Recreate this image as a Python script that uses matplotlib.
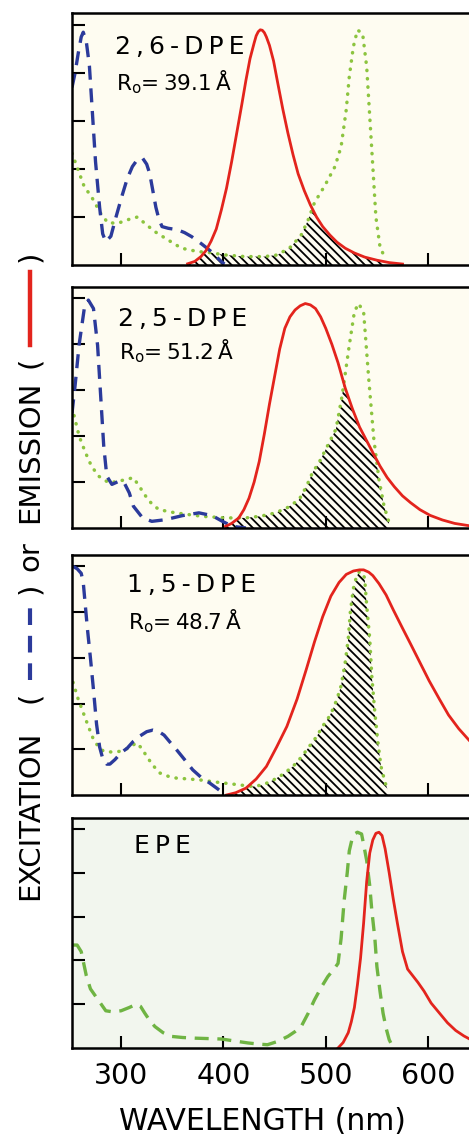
import numpy as np
import matplotlib
matplotlib.use("Agg")
import matplotlib.pyplot as plt
from matplotlib.lines import Line2D

# ================== DATA ==================
# 2,6-DPE
ex1_wl = [252, 255, 258, 261, 263, 266, 269, 272, 275, 279, 282, 285, 290, 295, 301, 306, 311, 316,
          321, 325, 328, 331, 334, 337, 340, 346, 355, 362, 369, 378, 384, 388, 393, 398, 401]
ex1 = [0.74, 0.80, 0.88, 0.95, 0.97, 0.93, 0.83, 0.63, 0.43, 0.24, 0.13, 0.097, 0.12, 0.20, 0.29, 0.36,
       0.41, 0.44, 0.445, 0.42, 0.38, 0.31, 0.24, 0.19, 0.16, 0.153, 0.147, 0.135, 0.118, 0.09, 0.07,
       0.056, 0.035, 0.014, 0.004]
ab1_wl = [252, 258, 264, 271, 280, 287, 297, 306, 316, 323, 333, 346, 359, 375, 388, 401, 421, 440,
          453, 466, 476, 483, 489, 499, 509, 515, 520, 523, 527, 531, 536, 540, 543, 546, 549, 553, 558]
ab1 = [0.465, 0.396, 0.326, 0.285, 0.215, 0.176, 0.174, 0.188, 0.20, 0.174, 0.139, 0.104, 0.07, 0.056,
       0.051, 0.042, 0.035, 0.035, 0.042, 0.076, 0.125, 0.19, 0.26, 0.33, 0.41, 0.493, 0.646, 0.785,
       0.91, 0.979, 0.965, 0.826, 0.618, 0.41, 0.2, 0.076, 0.028]
em1_wl = [365, 372, 378, 383, 388, 393, 398, 403, 408, 413, 418, 422, 426, 430, 432, 434, 436, 438,
          440, 442, 445, 449, 453, 458, 463, 468, 473, 479, 485, 491, 497, 504, 511, 519, 528, 538,
          550, 562, 575]
em1 = [0.005, 0.015, 0.035, 0.06, 0.10, 0.15, 0.23, 0.32, 0.43, 0.55, 0.67, 0.77, 0.86, 0.925, 0.955,
       0.972, 0.98, 0.978, 0.968, 0.95, 0.915, 0.85, 0.76, 0.65, 0.55, 0.46, 0.38, 0.31, 0.25, 0.20,
       0.16, 0.125, 0.095, 0.07, 0.05, 0.033, 0.02, 0.01, 0.004]

# 2,5-DPE
ex2_wl = [252, 255, 259, 264, 268, 273, 277, 280, 283, 286, 291, 298, 303, 308, 312, 321, 330, 343,
          360, 376, 389, 399, 409, 422]
ex2 = [0.50, 0.62, 0.80, 0.956, 0.993, 0.956, 0.796, 0.577, 0.358, 0.226, 0.19, 0.204, 0.197, 0.153,
       0.095, 0.044, 0.029, 0.036, 0.054, 0.066, 0.054, 0.029, 0.007, 0.0]
ab2_wl = [254, 259, 265, 271, 278, 288, 298, 305, 312, 318, 324, 330, 337, 353, 379, 402, 422, 437,
          451, 463, 474, 481, 487, 494, 500, 510, 516, 523, 528, 532, 537, 542, 547, 552, 557, 562]
ab2 = [0.49, 0.40, 0.33, 0.27, 0.226, 0.197, 0.204, 0.212, 0.219, 0.18, 0.139, 0.105, 0.08, 0.066,
       0.051, 0.044, 0.044, 0.052, 0.066, 0.09, 0.124, 0.18, 0.241, 0.29, 0.343, 0.431, 0.577, 0.796,
       0.942, 0.978, 0.942, 0.65, 0.387, 0.212, 0.095, 0.022]
em2_wl = [402, 408, 415, 420, 425, 430, 435, 440, 445, 450, 455, 460, 465, 470, 475, 480, 485, 490,
          495, 500, 506, 512, 519, 526, 533, 540, 547, 553, 560, 567, 575, 583, 592, 602, 614, 626, 640]
em2 = [0.007, 0.02, 0.044, 0.08, 0.13, 0.20, 0.29, 0.41, 0.54, 0.66, 0.78, 0.87, 0.92, 0.95, 0.968,
       0.978, 0.972, 0.956, 0.92, 0.87, 0.80, 0.72, 0.61, 0.52, 0.44, 0.38, 0.32, 0.27, 0.22, 0.18,
       0.14, 0.11, 0.08, 0.055, 0.035, 0.02, 0.01]

# 1,5-DPE
ex3_wl = [253, 257, 261, 263, 265, 267, 270, 273, 276, 279, 282, 286, 289, 294, 300, 306, 312, 318,
          325, 331, 337, 342, 348, 354, 362, 370, 378, 387, 394, 400]
ex3 = [1.0, 0.99, 0.97, 0.93, 0.83, 0.73, 0.60, 0.46, 0.31, 0.21, 0.16, 0.135, 0.135, 0.155, 0.185,
       0.205, 0.235, 0.257, 0.277, 0.284, 0.277, 0.262, 0.23, 0.199, 0.155, 0.11, 0.078, 0.051, 0.028,
       0.007]
ab3_wl = [253, 258, 263, 268, 273, 278, 283, 291, 299, 307, 315, 320, 325, 331, 338, 346, 354, 366,
          377, 390, 403, 416, 429, 439, 449, 458, 468, 476, 484, 491, 497, 503, 507, 511, 515, 519, 522,
          524, 527, 530, 533, 536, 538, 540, 543, 545, 548, 551, 554, 558, 561]
ab3 = [0.493, 0.42, 0.36, 0.30, 0.243, 0.21, 0.191, 0.188, 0.191, 0.205, 0.228, 0.205, 0.169, 0.13,
       0.096, 0.082, 0.074, 0.07, 0.066, 0.058, 0.051, 0.044, 0.037, 0.045, 0.066, 0.09, 0.125, 0.165,
       0.213, 0.255, 0.301, 0.34, 0.375, 0.42, 0.478, 0.58, 0.684, 0.80, 0.904, 0.955, 0.978, 0.97,
       0.949, 0.83, 0.684, 0.52, 0.36, 0.23, 0.125, 0.055, 0.015]
em3_wl = [403, 412, 422, 432, 442, 452, 462, 472, 481, 489, 497, 505, 513, 520, 527, 533, 537, 542,
          546, 552, 559, 566, 575, 583, 592, 601, 611, 620, 630, 640]
em3 = [0.0, 0.01, 0.03, 0.07, 0.125, 0.21, 0.30, 0.42, 0.55, 0.67, 0.78, 0.87, 0.93, 0.965, 0.98,
       0.985, 0.985, 0.975, 0.96, 0.925, 0.875, 0.81, 0.73, 0.66, 0.58, 0.50, 0.42, 0.35, 0.29, 0.24]

# EPE
ex4_wl = [253, 257, 261, 266, 270, 276, 285, 292, 300, 308, 315, 319, 323, 328, 333, 341, 349, 360,
          372, 385, 398, 411, 424, 434, 443, 453, 463, 470, 476, 483, 489, 496, 502, 508, 512, 515,
          518, 521, 523, 526, 528, 531, 535, 537, 540, 543, 545, 548, 550, 553, 556, 559, 562, 566]
ex4 = [0.47, 0.47, 0.44, 0.33, 0.27, 0.23, 0.17, 0.165, 0.17, 0.185, 0.2, 0.19, 0.16, 0.125, 0.098,
       0.07, 0.053, 0.048, 0.045, 0.043, 0.041, 0.032, 0.023, 0.018, 0.015, 0.03, 0.053, 0.075, 0.098,
       0.16, 0.22, 0.28, 0.326, 0.36, 0.386, 0.5, 0.674, 0.80, 0.9, 0.96, 0.977, 0.985, 0.977, 0.93,
       0.856, 0.74, 0.629, 0.50, 0.371, 0.26, 0.159, 0.09, 0.038, 0.0]
em4_wl = [512, 517, 522, 525, 528, 531, 534, 537, 540, 543, 546, 549, 552, 555, 558, 562, 566, 570,
          575, 580, 585, 590, 596, 603, 611, 619, 627, 635, 641]
em4 = [0.0, 0.025, 0.07, 0.12, 0.185, 0.29, 0.41, 0.57, 0.76, 0.89, 0.95, 0.98, 0.985, 0.97, 0.91,
       0.80, 0.68, 0.57, 0.44, 0.36, 0.33, 0.30, 0.26, 0.205, 0.16, 0.115, 0.08, 0.055, 0.04]

names = ["2,6-DPE", "2,5-DPE", "1,5-DPE", "EPE"]
r0_text = ["39.1", "51.2", "48.7", None]
xticks = [300, 400, 500, 600]
yticks = [0.2, 0.4, 0.6, 0.8, 1.0]

# ================== STYLE ==================
W, H = 469, 1135
RED = "#e3241d"
BLUE = "#2b3a9b"
GREEN_DOT = "#8cc43f"
GREEN_DASH = "#6fb443"
CREAM = "#fefcf1"
MINT = "#f2f6ee"
plt.rcParams['font.family'] = 'DejaVu Sans'
plt.rcParams['hatch.color'] = 'black'
plt.rcParams['hatch.linewidth'] = 1.3

fig = plt.figure(figsize=(W / 100, H / 100), dpi=100)
fig.patch.set_facecolor("white")

# panel top/bottom in pixels
boxes = [(13, 265), (287, 528), (555, 795), (818, 1048)]
panels = [
    (ex1_wl, ex1, ab1_wl, ab1, em1_wl, em1),
    (ex2_wl, ex2, ab2_wl, ab2, em2_wl, em2),
    (ex3_wl, ex3, ab3_wl, ab3, em3_wl, em3),
    (ex4_wl, ex4, None, None, em4_wl, em4),
]
lab_pos = [(294, 0.91, 0.76), (297, 0.91, 0.77), (306, 0.92, 0.76), (313, 0.92, None)]

thin = "\u2009"
for i, ((top, bot), data) in enumerate(zip(boxes, panels)):
    ax = fig.add_axes([72 / W, 1 - bot / H, (W - 72) / W, (bot - top) / H])
    ax.set_facecolor(MINT if i == 3 else CREAM)
    ax.set_xlim(252, 640)
    ax.set_ylim(0, 1.05)
    ax.spines['right'].set_visible(False)
    for s in ['left', 'top', 'bottom']:
        ax.spines[s].set_linewidth(1.8)
    ax.set_xticks(xticks)
    ax.set_yticks(yticks)
    ax.tick_params(direction='in', length=9, width=1.5, labelleft=False,
                   labelbottom=(i == 3), labelsize=20.5, pad=10)
    exw, exv, abw, abv, emw, emv = data

    if abw is not None:
        # overlap of donor emission and acceptor absorption
        grid = np.linspace(min(emw[0], abw[0]), max(emw[-1], abw[-1]), 800)
        ov = np.minimum(np.interp(grid, emw, emv, left=0, right=0),
                        np.interp(grid, abw, abv, left=0, right=0))
        ax.fill_between(grid, 0, ov, facecolor='none', edgecolor='black',
                        linewidth=0, hatch='\\\\\\\\')
        ax.plot(abw, abv, color=GREEN_DOT, lw=2.5, linestyle=(0, (0.1, 2.3)),
                dash_capstyle='round')
        ax.plot(exw, exv, color=BLUE, lw=2.4, linestyle=(0, (4.2, 2.6)))
    else:
        ax.plot(exw, exv, color=GREEN_DASH, lw=2.4, linestyle=(0, (4.2, 2.6)))
    ax.plot(emw, emv, color=RED, lw=2.0, solid_joinstyle='round')

    lx, ly1, ly2 = lab_pos[i]
    ax.text(lx, ly1, thin.join(names[i]), fontsize=18, va='center', ha='left')
    if r0_text[i] is not None:
        ax.text(lx + 1, ly2, r"R$_\mathregular{o}$=" + thin + r0_text[i] + thin + "Å",
                fontsize=15.5, va='center', ha='left')

# x label
fig.text(262 / W, 1 - 1122 / H, "WAVELENGTH (nm)", fontsize=21.5, ha='center', va='center')

# y label built from pieces, reading bottom to top
lx = 30 / W
fs = 21
def vtext(s, ypix):
    fig.text(lx, 1 - ypix / H, s, rotation=90, ha='center', va='center', fontsize=fs)

vtext("EXCITATION", 815)
vtext("(", 697)
fig.add_artist(Line2D([lx, lx], [1 - 680 / H, 1 - 604 / H], transform=fig.transFigure,
                      color=BLUE, lw=3, linestyle=(0, (4.0, 2.6))))
vtext(")", 588)
vtext("or", 556)
vtext("EMISSION", 452)
vtext("(", 362)
fig.add_artist(Line2D([lx, lx], [1 - 345 / H, 1 - 272 / H], transform=fig.transFigure,
                      color=RED, lw=3.2))
vtext(")", 256)

fig.savefig("out.png", dpi=100)
